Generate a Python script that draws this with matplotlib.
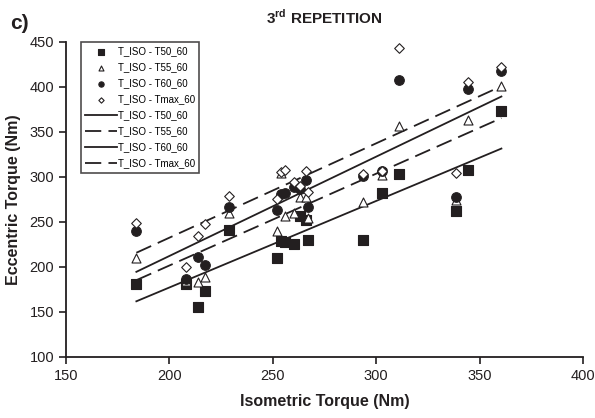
"""Eccentric vs isometric torque, 3rd repetition."""

import matplotlib

matplotlib.use("Agg")

import matplotlib.pyplot as plt
import numpy as np

plt.rcParams["font.family"] = ["Liberation Sans", "DejaVu Sans"]
plt.rcParams["mathtext.fontset"] = "custom"
plt.rcParams["mathtext.rm"] = "Liberation Sans"
plt.rcParams["mathtext.bf"] = "Liberation Sans:bold"

INK = "#231f20"

# isometric torque per subject (Nm)
iso = [184, 208, 214, 217, 229, 252, 254, 256, 260, 263, 266, 267,
       293.5, 303, 311, 338.5, 344.5, 360.5]
# eccentric torque per condition (Nm)
t50 = [181, 181, 155, 173, 241, 210, 229, 228, 226, 257, 252, 230,
       230, 282, 303, 262, 308, 373]
t55 = [210, 184, 183, 189, 260, 240, 304, 256, 260, 278, 278, 254,
       272, 302, 357, 274, 363, 401]
t60 = [240, 187, 211, 202, 266, 263, 281, 282, 289, 286, 297, 266,
       301, 306, 408, 278, 398, 418]
tmax = [249, 200, 234, 248, 279, 275, 305, 308, 294, 290, 306, 283,
        303, 307, 443, 304, 405, 422]

labels = ["T_ISO - T50_60", "T_ISO - T55_60", "T_ISO - T60_60", "T_ISO - Tmax_60"]
# regression lines (slope, intercept)
fit_slope = [0.961, 1.02, 1.103, 1.048]
fit_intercept = [-15.0, -2.4, -8.4, 22.9]


def main() -> None:
    fig = plt.figure(figsize=(5.95, 4.18), dpi=100)
    ax = fig.add_axes([0.111, 0.146, 0.869, 0.754])

    series = [t50, t55, t60, tmax]
    styles = [
        dict(marker="s", s=44, facecolor=INK, edgecolor=INK),
        dict(marker="^", s=42, facecolor="white", edgecolor=INK),
        dict(marker="o", s=48, facecolor=INK, edgecolor=INK),
        dict(marker="D", s=24, facecolor="white", edgecolor=INK),
    ]
    x = np.array(iso, dtype=float)
    for y, st, lab in zip(series, styles, labels):
        ax.scatter(x, y, linewidths=0.8, label=lab, zorder=3, **st)

    xs = np.array([x.min(), x.max()])
    dashes = [None, (9, 4), None, (9, 4)]
    for m, b, d, lab in zip(fit_slope, fit_intercept, dashes, labels):
        line, = ax.plot(xs, m * xs + b, color=INK, lw=1.3, label=lab, zorder=2)
        if d is not None:
            line.set_dashes(d)

    ax.set_xlim(150, 400)
    ax.set_ylim(100, 450)
    ax.set_xticks(range(150, 401, 50))
    ax.set_yticks(range(100, 451, 50))
    for side in ("top", "right"):
        ax.spines[side].set_visible(False)
    for side in ("left", "bottom"):
        ax.spines[side].set_linewidth(1.3)
        ax.spines[side].set_color(INK)
    ax.tick_params(direction="out", length=5, width=1.2, colors=INK,
                   labelsize=10.5, labelcolor=INK)

    ax.set_xlabel("Isometric Torque (Nm)", fontsize=11.5, fontweight="bold",
                  color=INK, labelpad=8)
    ax.set_ylabel("Eccentric Torque (Nm)", fontsize=11.5, fontweight="bold",
                  color=INK, labelpad=6)
    ax.set_title(r"3$^{\mathbf{rd}}$ REPETITION", fontsize=11, fontweight="bold",
                 color=INK, pad=13)
    fig.text(0.017, 0.93, "c)", fontsize=15, fontweight="bold", color=INK)

    leg = ax.legend(loc="upper left", bbox_to_anchor=(0.028, 1.0), fontsize=7,
                    frameon=True, fancybox=False, edgecolor=INK,
                    markerscale=0.55, handlelength=3.3, handletextpad=0.1,
                    labelspacing=0.62, borderpad=0.45, borderaxespad=0.0)
    leg.get_frame().set_linewidth(1.2)

    fig.savefig("out.png", dpi=100)
    plt.close(fig)


if __name__ == "__main__":
    main()
